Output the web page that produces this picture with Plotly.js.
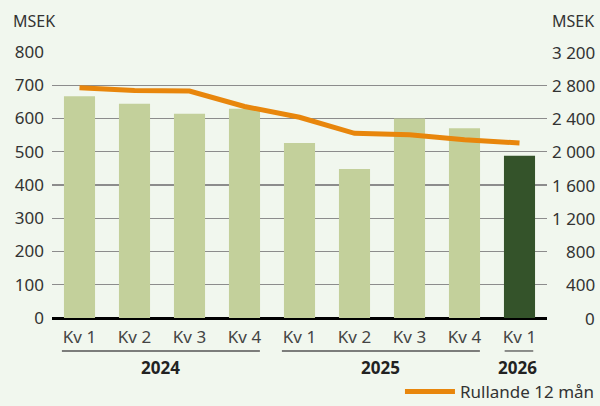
<!DOCTYPE html>
<html>
<head>
<meta charset="utf-8">
<script src="https://cdn.plot.ly/plotly-3.0.1.min.js"></script>
<style>
html,body{margin:0;padding:0;background:#f1f7ee;}
#chart{width:600px;height:406px;}
</style>
</head>
<body>
<div id="chart"></div>
<script>
// Data
const quarters = ['Kv 1','Kv 2','Kv 3','Kv 4','Kv 1','Kv 2','Kv 3','Kv 4','Kv 1'];
const years = ['2024','2025','2026'];
const yearCounts = [4, 4, 1];
const quarterlyValues = [667, 644, 614, 629, 526, 448, 600, 571, 488];
const rolling12 = [2771, 2737, 2731, 2545, 2415, 2222, 2205, 2145, 2105];
const leftTicks = [0,100,200,300,400,500,600,700,800];
const rightTicks = [0,400,800,1200,1600,2000,2400,2800,3200];
const rightTickText = ['0','400','800','1 200','1 600','2 000','2 400','2 800','3 200'];
const seriesName = 'Rullande 12 mån';
const unit = 'MSEK';

const FONT = 'Noto Sans, Open Sans, sans-serif';
const xIdx = quarters.map((_, i) => i);
const lightGreen = '#c3d09b', darkGreen = '#34532a', orange = '#e8860c';
const barColors = quarterlyValues.map((_, i) => i === quarterlyValues.length - 1 ? darkGreen : lightGreen);

const traces = [
  {type:'bar', x:xIdx, y:quarterlyValues, marker:{color:barColors}, width:0.565, showlegend:false, hoverinfo:'skip'},
  {type:'scatter', mode:'lines', x:xIdx, y:rolling12, yaxis:'y2', name:seriesName,
   line:{color:orange, width:5}, showlegend:true}
];

const shapes = [];
const annotations = [];
let start = 0;
years.forEach((yr, g) => {
  const n = yearCounts[g];
  const end = start + n - 1;
  const pad = 0.3;
  shapes.push({type:'line', xref:'x', yref:'paper', x0:start - pad + (n>1?-0.02:0.03), x1:end + pad - (n>1?0.02:0.05),
    y0:-0.124, y1:-0.124, line:{color:'#555', width:1.3}});
  annotations.push({xref:'x', yref:'paper', x:(start+end)/2 - 0.03, y:-0.185, text:'<b>'+yr+'</b>',
    showarrow:false, font:{family:FONT, size:17, color:'#222'}, yanchor:'middle'});
  start += n;
});
// right axis labels (right-aligned)
rightTicks.forEach((v, i) => {
  annotations.push({xref:'paper', yref:'y2', x:1.1, y:v, text:rightTickText[i], showarrow:false,
    xanchor:'right', yanchor:'middle', font:{family:FONT, size:17, color:'#333'}});
});
annotations.push({xref:'paper', yref:'paper', x:-0.082, y:1.115, text:unit, showarrow:false,
  xanchor:'left', yanchor:'middle', font:{family:FONT, size:16, color:'#333'}});
annotations.push({xref:'paper', yref:'paper', x:1.006, y:1.115, text:unit, showarrow:false,
  xanchor:'left', yanchor:'middle', font:{family:FONT, size:16, color:'#333'}});

const layout = {
  width:600, height:406,
  margin:{l:52, r:53, t:52, b:88, autoexpand:false},
  paper_bgcolor:'#f1f7ee', plot_bgcolor:'#f1f7ee',
  font:{family:FONT, size:17, color:'#333'},
  xaxis:{range:[-0.5, 8.5], tickvals:xIdx, ticktext:quarters, showgrid:false, zeroline:false,
    showline:false, ticks:'', tickfont:{family:FONT, size:17, color:'#444'}, fixedrange:true,
    automargin:false, ticklabelstandoff:7},
  yaxis:{range:[0,800], tickvals:leftTicks, showgrid:true, gridcolor:'#8c8c8c', gridwidth:1.3,
    zeroline:true, zerolinecolor:'#000', zerolinewidth:3, showline:false, ticks:'',
    tickfont:{family:FONT, size:17, color:'#333'}, ticklabelstandoff:7, automargin:false},
  yaxis2:{range:[0,3200], tickvals:rightTicks, overlaying:'y', side:'right', showgrid:false,
    zeroline:false, showticklabels:false, ticks:'', automargin:false},
  showlegend:true,
  legend:{x:1.107, xanchor:'right', y:-0.278, yanchor:'middle', orientation:'h',
    bgcolor:'rgba(0,0,0,0)', font:{family:FONT, size:17, color:'#333'}, itemwidth:50},
  shapes:shapes,
  annotations:annotations
};

Plotly.newPlot('chart', traces, layout, {staticPlot:true, displayModeBar:false});
</script>
</body>
</html>
